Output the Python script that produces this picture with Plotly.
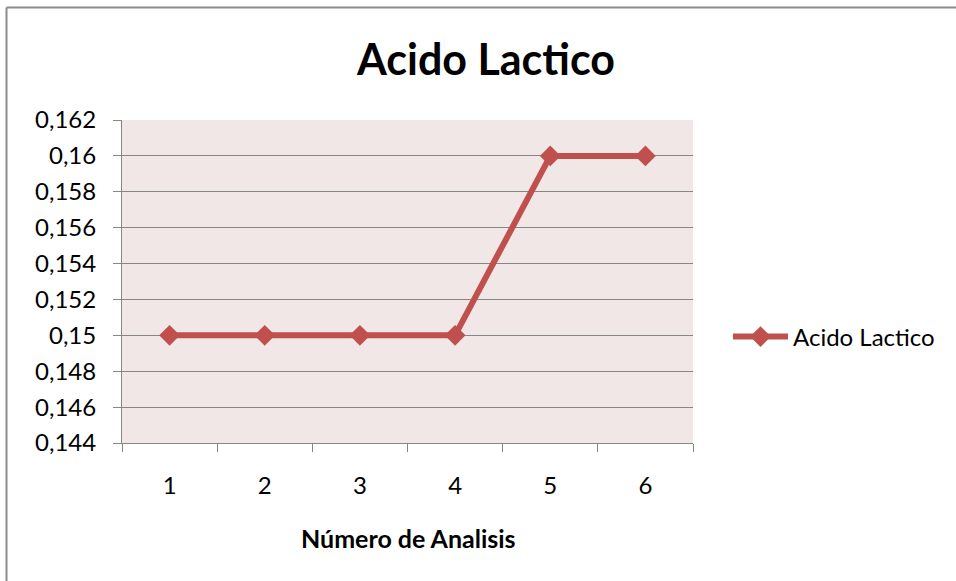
import plotly.graph_objects as go

# Data
analisis = ["1", "2", "3", "4", "5", "6"]
acido_lactico = [0.15, 0.15, 0.15, 0.15, 0.16, 0.16]
y_ticks = [0.144, 0.146, 0.148, 0.150, 0.152, 0.154, 0.156, 0.158, 0.160, 0.162]
y_tick_labels = ["0,144", "0,146", "0,148", "0,15", "0,152", "0,154", "0,156", "0,158", "0,16", "0,162"]

W, H = 956, 581
L, R, T, B = 122, 263, 120, 138
pw, ph = W - L - R, H - T - B

def px_x(x):
    return (x - L) / pw

def px_y(y):
    return (H - B - y) / ph

FONT = "Lato, Calibri, Carlito, sans-serif"
RED = "#C0504D"
GRID = "#868686"

fig = go.Figure()
fig.add_trace(go.Scatter(
    x=analisis, y=acido_lactico, name="Acido Lactico",
    mode="lines+markers",
    line=dict(color=RED, width=6),
    marker=dict(symbol="diamond", size=16, color=RED),
))

fig.update_layout(
    width=W, height=H,
    margin=dict(l=L, r=R, t=T, b=B, pad=0),
    paper_bgcolor="white",
    plot_bgcolor="#F2E7E7",
    font=dict(family=FONT, size=24, color="#000000"),
    title=dict(text="<b>Acido Lactico</b>", font=dict(family=FONT, size=43, color="#000"),
               x=486 / W, xanchor="center", y=1 - 60 / H, yanchor="middle",
               xref="container", yref="container"),
    showlegend=True,
    legend=dict(x=px_x(728), y=px_y(337), xanchor="left", yanchor="middle",
                font=dict(family=FONT, size=24, color="#000"),
                bgcolor="rgba(0,0,0,0)", itemwidth=55),
    xaxis=dict(type="category", range=[-0.5, 5.5], tickson="boundaries",
               ticks="outside", ticklen=8,
               tickcolor=GRID, tickwidth=1, showline=True, linecolor=GRID, linewidth=1,
               showgrid=False, zeroline=False, ticklabelstandoff=21,
               tickfont=dict(family=FONT, size=24, color="#000")),
    yaxis=dict(range=[0.144, 0.162], tickvals=y_ticks, ticktext=y_tick_labels,
               ticks="outside", ticklen=8, tickcolor=GRID, tickwidth=1,
               showline=True, linecolor=GRID, linewidth=1,
               showgrid=True, gridcolor=GRID, gridwidth=1, zeroline=False,
               ticklabelstandoff=12,
               tickfont=dict(family=FONT, size=24, color="#000")),
)

# Axis title
fig.add_annotation(text="<b>Número de Analisis</b>", x=px_x(408), y=px_y(538),
                   xref="paper", yref="paper", showarrow=False,
                   xanchor="center", yanchor="middle",
                   font=dict(family=FONT, size=25, color="#000"))

# Chart frame (top and left edges)
fig.add_shape(type="line", xref="paper", yref="paper",
              x0=px_x(6.5), x1=px_x(W + 2), y0=px_y(7.5), y1=px_y(7.5),
              line=dict(color="#8C8C8C", width=2))
fig.add_shape(type="line", xref="paper", yref="paper",
              x0=px_x(6.5), x1=px_x(6.5), y0=px_y(7.5), y1=px_y(H + 2),
              line=dict(color="#8C8C8C", width=2))

fig.write_html("out.html")
